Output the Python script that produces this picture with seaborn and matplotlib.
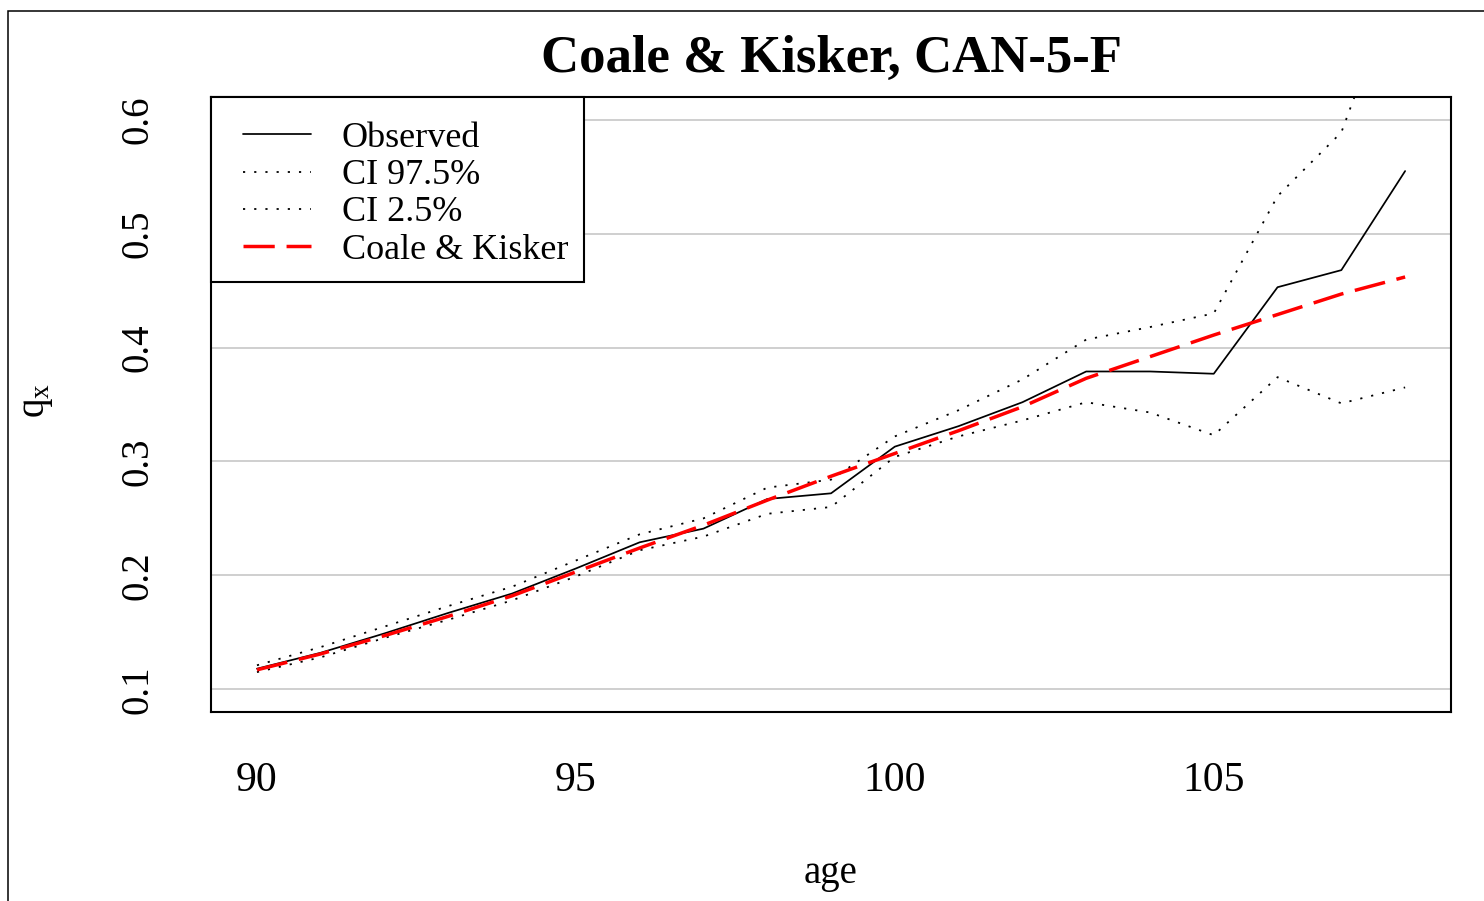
"""
Coale & Kisker fit vs observed q_x, CAN-5-F (ages 90-108).
"""

import numpy as np
import pandas as pd
import matplotlib
matplotlib.use("Agg")
import matplotlib.pyplot as plt
import seaborn as sns

# --- data ---
ages = list(range(90, 109))
observed = [0.118, 0.132, 0.149, 0.167, 0.184, 0.206, 0.229, 0.241, 0.267, 0.272,
            0.313, 0.331, 0.352, 0.379, 0.379, 0.377, 0.453, 0.468, 0.555]
ci_upper = [0.121, 0.137, 0.155, 0.173, 0.190, 0.213, 0.236, 0.250, 0.277, 0.284,
            0.322, 0.345, 0.372, 0.407, 0.418, 0.430, 0.533, 0.589, 0.740]
ci_lower = [0.115, 0.128, 0.145, 0.161, 0.178, 0.199, 0.222, 0.234, 0.254, 0.260,
            0.304, 0.322, 0.336, 0.352, 0.343, 0.323, 0.374, 0.351, 0.365]
fitted = [0.117, 0.131, 0.147, 0.164, 0.182, 0.203, 0.224, 0.244, 0.266, 0.287,
          0.307, 0.327, 0.348, 0.373, 0.392, 0.411, 0.429, 0.447, 0.462]

x_ticks = [90, 95, 100, 105]
y_ticks = [0.1, 0.2, 0.3, 0.4, 0.5, 0.6]
title = "Coale & Kisker, CAN-5-F"

df = pd.DataFrame({"age": ages, "obs": observed, "up": ci_upper,
                   "low": ci_lower, "fit": fitted})

sns.set_style("white")
plt.rcParams["font.family"] = ["Liberation Serif", "DejaVu Serif"]
plt.rcParams["mathtext.fontset"] = "custom"
plt.rcParams["mathtext.rm"] = "Liberation Serif"
plt.rcParams["mathtext.it"] = "Liberation Serif"
for key in ["text.color", "axes.labelcolor", "xtick.color", "ytick.color"]:
    plt.rcParams[key] = "black"

fig = plt.figure(figsize=(14.84, 9.01), dpi=100)
ax = fig.add_axes([0.1422, 0.2098, 0.8356, 0.6825])

# horizontal grid
for yv in y_ticks:
    ax.axhline(yv, color="#cfcfcf", lw=1.4, zorder=0)

dotted = (0, (1.2, 5.0))
sns.lineplot(data=df, x="age", y="obs", ax=ax, color="black", lw=1.25,
             label="Observed")
sns.lineplot(data=df, x="age", y="up", ax=ax, color="black", lw=1.3,
             linestyle=dotted, label="CI 97.5%")
sns.lineplot(data=df, x="age", y="low", ax=ax, color="black", lw=1.3,
             linestyle=dotted, label="CI 2.5%")
sns.lineplot(data=df, x="age", y="fit", ax=ax, color="#ff0000", lw=2.5,
             linestyle=(0, (9.0, 3.4)), label="Coale & Kisker")

ax.set_xlim(89.28, 108.72)
ax.set_ylim(0.08, 0.62)
ax.set_xticks(x_ticks)
ax.set_yticks(y_ticks)
ax.set_xticklabels([str(v) for v in x_ticks], fontsize=30)
ax.set_yticklabels([f"{v:.1f}" for v in y_ticks], rotation=90, va="center",
                   fontsize=28)
ax.tick_params(axis="both", direction="out", length=17, width=1.1,
               color="black")
ax.tick_params(axis="x", pad=19)
ax.tick_params(axis="y", pad=22)
ax.set_xlabel("")
ax.set_ylabel("")

for sp in ax.spines.values():
    sp.set_color("black")
    sp.set_linewidth(1.5)

# legend box (drawn separately so padding can match)
box = plt.Rectangle((0, 0.6992), 0.3008, 0.3008, transform=ax.transAxes,
                    facecolor="white", edgecolor="black", lw=1.5, zorder=4,
                    clip_on=False)
ax.add_patch(box)
leg = ax.legend(loc="upper left", bbox_to_anchor=(0.0258, 0.960),
                borderaxespad=0, borderpad=0, frameon=False, fontsize=26,
                handlelength=1.88, handletextpad=0.86, labelspacing=0.11)
leg.set_zorder(5)

fig.text(0.5606, 0.934, title, ha="center", va="center", fontsize=38,
         fontweight="bold")
fig.text(0.5600, 0.031, "age", ha="center", va="center", fontsize=28)
fig.text(0.0245, 0.556, r"q$_{\mathregular{x}}$", ha="center", va="center",
         fontsize=28, rotation=90)

# outer device frame (top and left edges visible)
fig.add_artist(plt.Rectangle((8 / 1484, -0.1), 1.5, 1.1 - 11 / 901,
                             transform=fig.transFigure, fill=False,
                             edgecolor="black", lw=1.1))

fig.savefig("out.png", dpi=100, facecolor="white")
